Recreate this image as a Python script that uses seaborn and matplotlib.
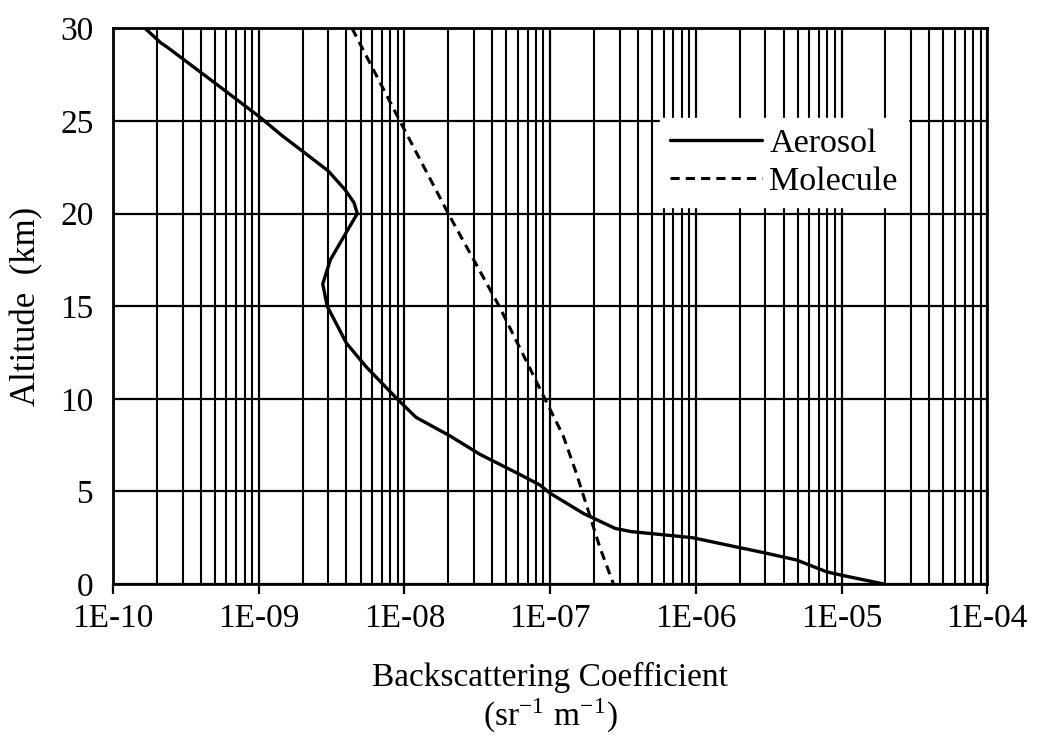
import numpy as np
import pandas as pd
import matplotlib
matplotlib.use("Agg")
import matplotlib.pyplot as plt
import seaborn as sns
from matplotlib.ticker import LogLocator, FixedLocator

# ---- data ----
aerosol_alt = [30.0, 29.2, 29.0, 27.0, 25.2, 24.2, 23.3, 22.3, 21.3, 20.6, 20.0, 19.0,
               17.5, 16.2, 15.0, 13.0, 11.7, 10.0, 9.0, 8.0, 7.0, 6.0, 5.35, 4.9,
               3.8, 3.0, 2.83, 2.5, 2.0, 1.7, 1.3, 0.66, 0.49, 0.0]
aerosol_beta = [1.66e-10, 2.14e-10, 2.34e-10, 5.1e-10, 1.02e-9, 1.45e-9, 2.05e-9, 3.0e-9,
                3.9e-9, 4.5e-9, 4.75e-9, 4.0e-9, 3.1e-9, 2.75e-9, 2.95e-9, 4.0e-9,
                5.5e-9, 8.9e-9, 1.2e-8, 2.05e-8, 3.3e-8, 5.9e-8, 8.5e-8, 1.0e-7,
                1.7e-7, 2.8e-7, 3.6e-7, 9.5e-7, 1.9e-6, 2.9e-6, 4.9e-6, 7.9e-6,
                9.8e-6, 1.95e-5]

molecule_alt = [30, 25, 20, 15, 12, 10, 8, 6, 4, 2, 0]
molecule_beta = [4.37e-9, 9.3e-9, 2.0e-8, 4.47e-8, 6.9e-8, 9.2e-8, 1.23e-7, 1.51e-7,
                 1.82e-7, 2.19e-7, 2.72e-7]

series_names = ["Aerosol", "Molecule"]
x_tick_values = [1e-10, 1e-9, 1e-8, 1e-7, 1e-6, 1e-5, 1e-4]
x_tick_labels = ["1E-10", "1E-09", "1E-08", "1E-07", "1E-06", "1E-05", "1E-04"]
y_ticks = [0, 5, 10, 15, 20, 25, 30]

sns.set_theme(style="white")
plt.rcParams["font.family"] = ["Liberation Serif", "DejaVu Serif"]
plt.rcParams["mathtext.fontset"] = "stix"

fig = plt.figure(figsize=(10.37, 7.36), dpi=100)
ax = fig.add_axes([0.109, 0.2065, 0.843, 0.755])

df_a = pd.DataFrame({"beta": aerosol_beta, "alt": aerosol_alt})
df_m = pd.DataFrame({"beta": molecule_beta, "alt": molecule_alt})

sns.lineplot(data=df_a, x="beta", y="alt", sort=False, estimator=None, ax=ax,
             color="black", lw=2.4, label=series_names[0])
sns.lineplot(data=df_m, x="beta", y="alt", sort=False, estimator=None, ax=ax,
             color="black", lw=2.2, linestyle=(0, (3, 2)), label=series_names[1])

ax.set_xscale("log")
ax.set_xlim(1e-10, 1e-4)
ax.set_ylim(0, 30)

ax.xaxis.set_major_locator(FixedLocator(x_tick_values))
ax.set_xticklabels(x_tick_labels)
ax.xaxis.set_minor_locator(LogLocator(base=10, subs=np.arange(2, 10), numticks=20))
ax.set_yticks(y_ticks)

ax.grid(True, which="major", axis="both", color="black", lw=1.6)
ax.grid(True, which="minor", axis="x", color="black", lw=1.5)
ax.set_axisbelow(True)

for s in ax.spines.values():
    s.set_color("black")
    s.set_linewidth(2.0)

ax.tick_params(axis="x", which="major", direction="out", length=7, width=1.6,
               labelsize=24, pad=7, colors="black", bottom=True)
ax.tick_params(axis="x", which="minor", length=0)
ax.tick_params(axis="y", which="major", length=0, labelsize=24, pad=14, colors="black")

ax.set_xlabel("Backscattering Coefficient\n(sr$^{\\mathregular{-1}}$ m$^{\\mathregular{-1}}$)",
              fontsize=24, labelpad=20, linespacing=1.1, color="black")
ax.set_ylabel("Altitude  (km)", fontsize=25, labelpad=12, color="black")

leg = ax.legend(loc="upper left", bbox_to_anchor=(0.626, 0.838), fontsize=24.5,
                frameon=True, fancybox=False, framealpha=1.0, handlelength=2.7,
                handletextpad=0.2, labelspacing=0.2, borderpad=0.3, borderaxespad=0)
leg.get_frame().set_facecolor("white")
leg.get_frame().set_edgecolor("white")
for t in leg.get_texts():
    t.set_color("black")

fig.savefig("out.png", dpi=100, facecolor="white")
